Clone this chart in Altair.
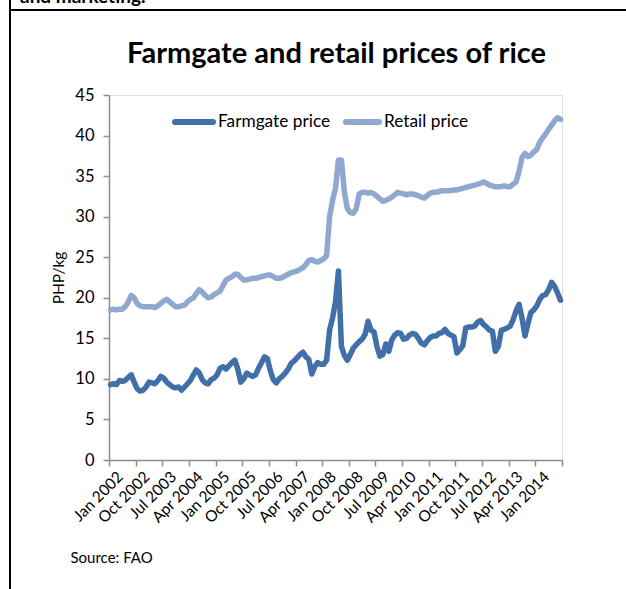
import altair as alt
import pandas as pd

# ---- data (PHP/kg, monthly Jan 2002 .. Sep 2014) ----
farmgate = [
    9.3, 9.4, 9.3, 9.8, 9.7, 9.8, 10.2, 10.5, 9.6, 8.8, 8.5, 8.6,
    9.0, 9.6, 9.5, 9.4, 9.8, 10.3, 10.1, 9.6, 9.3, 9.0, 8.9, 9.0,
    8.6, 9.0, 9.4, 9.8, 10.5, 11.1, 10.7, 9.9, 9.5, 9.4, 9.9, 10.1,
    10.5, 11.3, 11.5, 11.2, 11.6, 12.0, 12.3, 11.2, 9.6, 10.0, 10.7, 10.5,
    10.3, 10.5, 11.3, 12.0, 12.7, 12.5, 11.0, 9.9, 9.5, 10.0, 10.3, 10.7,
    11.2, 11.9, 12.2, 12.6, 13.0, 13.3, 12.7, 12.4, 10.6, 11.5, 12.0, 11.8,
    11.8, 12.3, 16.0, 17.5, 19.5, 23.3, 14.0, 12.9, 12.3, 13.0, 13.8, 14.2,
    14.6, 14.9, 15.5, 17.1, 16.0, 15.8, 14.0, 12.8, 13.0, 14.3, 13.4, 14.8,
    15.4, 15.7, 15.6, 14.9, 15.0, 15.4, 15.6, 15.5, 15.0, 14.4, 14.2, 14.7,
    15.1, 15.3, 15.3, 15.6, 15.7, 16.1, 15.6, 15.4, 15.2, 13.2, 13.6, 14.1,
    16.3, 16.4, 16.4, 16.5, 17.0, 17.2, 16.7, 16.4, 16.0, 15.9, 13.4, 14.0,
    16.0, 16.1, 16.3, 16.5, 17.3, 18.4, 19.2, 17.5, 15.3, 16.8, 18.2, 18.5,
    19.0, 19.8, 20.3, 20.4, 21.0, 21.9, 21.4, 20.6, 19.7,
]
retail = [
    18.5, 18.6, 18.5, 18.6, 18.6, 18.9, 19.5, 20.3, 20.0, 19.3, 19.0, 18.9,
    18.9, 18.9, 18.9, 18.8, 19.0, 19.3, 19.6, 19.8, 19.5, 19.2, 18.9, 18.9,
    19.0, 19.1, 19.5, 19.8, 20.0, 20.5, 21.0, 20.7, 20.3, 20.0, 20.1, 20.4,
    20.6, 20.8, 21.5, 22.2, 22.4, 22.6, 22.9, 22.9, 22.5, 22.2, 22.2, 22.3,
    22.4, 22.4, 22.5, 22.6, 22.7, 22.8, 22.8, 22.6, 22.4, 22.4, 22.5, 22.7,
    22.9, 23.1, 23.2, 23.3, 23.5, 23.7, 24.1, 24.6, 24.7, 24.5, 24.4, 24.6,
    24.8, 25.2, 30.0, 32.0, 33.5, 37.0, 37.0, 33.0, 31.0, 30.5, 30.4, 31.0,
    32.8, 33.0, 33.0, 32.9, 33.0, 32.8, 32.5, 32.2, 31.9, 32.0, 32.2, 32.4,
    32.7, 33.0, 32.9, 32.8, 32.7, 32.8, 32.8, 32.7, 32.6, 32.4, 32.3, 32.6,
    32.9, 33.0, 33.0, 33.1, 33.2, 33.2, 33.2, 33.2, 33.3, 33.3, 33.4, 33.5,
    33.6, 33.7, 33.8, 33.9, 34.0, 34.1, 34.3, 34.1, 33.9, 33.8, 33.7, 33.7,
    33.7, 33.8, 33.7, 33.7, 34.0, 34.3, 35.6, 37.3, 37.8, 37.4, 37.6, 38.0,
    38.3, 39.2, 39.7, 40.2, 40.8, 41.3, 41.8, 42.2, 42.0,
]
tick_labels = [
    "Jan 2002", "Oct 2002", "Jul 2003", "Apr 2004", "Jan 2005", "Oct 2005",
    "Jul 2006", "Apr 2007", "Jan 2008", "Oct 2008", "Jul 2009", "Apr 2010",
    "Jan 2011", "Oct 2011", "Jul 2012", "Apr 2013", "Jan 2014",
]
series_names = ["Farmgate price", "Retail price"]
series_colors = ["#4170A8", "#8EA8CF"]
y_ticks = [0, 5, 10, 15, 20, 25, 30, 35, 40, 45]
title_text = "Farmgate and retail prices of rice"
header_text = "and marketing."

FONT = "Lato"
n = len(farmgate)
months = pd.date_range("2002-01-01", periods=n, freq="MS")
df = pd.DataFrame({
    "pos": [i + 0.5 for i in range(n)] * 2,
    "month": list(months.strftime("%b %Y")) * 2,
    "series": [series_names[0]] * n + [series_names[1]] * n,
    "value": farmgate + retail,
})

tick_vals = list(range(0, n + 1, 9))
arr = "[" + ",".join("'" + t + "'" for t in tick_labels + [""]) + "]"
label_expr = arr + "[round(datum.value / 9)]"

W, H = 453, 365
PAD_L, PAD_T = 109, 95

lines = alt.Chart(df).mark_line(
    strokeWidth=5.5, strokeJoin="round", strokeCap="round"
).encode(
    x=alt.X(
        "pos:Q",
        scale=alt.Scale(domain=[0, n], nice=False, zero=False),
        axis=alt.Axis(
            values=tick_vals, labelExpr=label_expr, labelAngle=315,
            labelFontSize=15.5, labelFont=FONT, labelColor="#000000",
            labelPadding=3, labelOffset=6, tickSize=6, labelOverlap=False,
            labelBound=False, grid=False, domainColor="#8c8c8c",
            tickColor="#8c8c8c", domainWidth=1.5, tickWidth=1.5,
            title="Source: FAO", titleFont=FONT, titleFontSize=15,
            titleFontWeight="normal", titleColor="#000000",
            titleX=-39, titleY=97, titleAlign="left", titleBaseline="middle",
        ),
    ),
    y=alt.Y(
        "value:Q",
        scale=alt.Scale(domain=[0, 45], nice=False),
        axis=alt.Axis(
            values=y_ticks, labelFontSize=16.5, labelFont=FONT,
            labelColor="#000000", labelPadding=9, tickSize=6, grid=False,
            domainColor="#8c8c8c", tickColor="#8c8c8c",
            domainWidth=1.5, tickWidth=1.5,
            title="PHP/kg", titleFont=FONT, titleFontSize=15.5,
            titleFontWeight="normal", titleColor="#000000",
            titlePadding=8,
        ),
    ),
    color=alt.Color(
        "series:N",
        scale=alt.Scale(domain=series_names, range=series_colors),
        legend=None,
    ),
    order="pos:Q",
)

# legend drawn by hand (line swatch + label for each series)
LEG_Y = 122 - PAD_T
leg_layers = []
for name, col, (sx0, sx1) in zip(series_names, series_colors,
                                 [(175, 213), (346, 379)]):
    leg_layers.append(
        alt.Chart(pd.DataFrame({"s": [name]})).mark_rule(
            color=col, strokeWidth=6, strokeCap="round"
        ).encode(x=alt.value(sx0 - PAD_L), x2=alt.value(sx1 - PAD_L),
                 y=alt.value(LEG_Y))
    )
    leg_layers.append(
        alt.Chart(pd.DataFrame({"s": [name]})).mark_text(
            font=FONT, fontSize=17.3, align="left", baseline="middle",
            color="#000000",
        ).encode(text="s:N", x=alt.value(sx1 + 5 - PAD_L), y=alt.value(LEG_Y))
    )

# decorative frame of the surrounding document
frame_h = alt.Chart(df).mark_rule(color="#000000", strokeWidth=2).encode(
    x=alt.value(9 - PAD_L), x2=alt.value(626 - PAD_L), y=alt.value(10 - PAD_T)
)
frame_v = alt.Chart(df).mark_rule(color="#000000", strokeWidth=2).encode(
    x=alt.value(10 - PAD_L), y=alt.value(-PAD_T), y2=alt.value(589 - PAD_T)
)
top_text = alt.Chart(pd.DataFrame({"t": [header_text]})).mark_text(
    font=FONT, fontSize=19, fontWeight="bold", align="left",
    baseline="alphabetic", color="#000000",
).encode(text="t:N", x=alt.value(20 - PAD_L), y=alt.value(3 - PAD_T))
title = alt.Chart(pd.DataFrame({"t": [title_text]})).mark_text(
    font=FONT, fontSize=29, fontWeight="bold", align="center",
    baseline="alphabetic", color="#000000",
).encode(text="t:N", x=alt.value(W / 2 + 1), y=alt.value(63 - PAD_T))

chart = alt.layer(lines, *leg_layers, frame_h, frame_v, top_text, title).properties(
    width=W, height=H,
    autosize=alt.AutoSizeParams(type="none"),
    padding={"left": PAD_L, "top": PAD_T, "right": 626 - PAD_L - W,
             "bottom": 589 - PAD_T - H},
).configure_view(stroke="#8c8c8c", strokeWidth=1.5).configure(background="#ffffff")

chart.save("out.html", embed_options={"renderer": "svg", "actions": False})
